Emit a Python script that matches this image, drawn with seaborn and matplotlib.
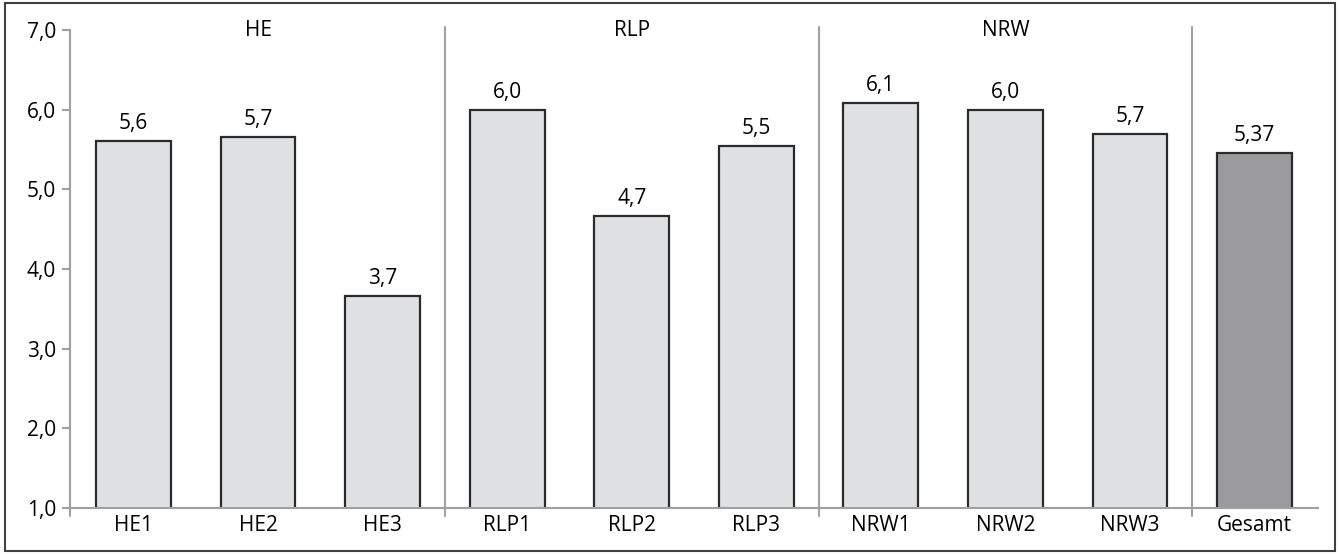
import matplotlib
matplotlib.use("Agg")
import matplotlib.pyplot as plt
import seaborn as sns
import pandas as pd
from matplotlib.patches import Rectangle

# data
categories = ["HE1", "HE2", "HE3", "RLP1", "RLP2", "RLP3", "NRW1", "NRW2", "NRW3", "Gesamt"]
values = [5.61, 5.66, 3.66, 6.0, 4.66, 5.54, 6.09, 6.0, 5.69, 5.46]
value_labels = ["5,6", "5,7", "3,7", "6,0", "4,7", "5,5", "6,1", "6,0", "5,7", "5,37"]
groups = ["HE", "RLP", "NRW"]
yticks = [1.0, 2.0, 3.0, 4.0, 5.0, 6.0, 7.0]

light = "#e0e1e3"
dark = "#9a9b9f"
line_gray = "#a0a0a0"
fs = 15

sns.set_style("white")
plt.rcParams["font.family"] = ["Open Sans", "DejaVu Sans"]
plt.rcParams["text.color"] = "black"

df = pd.DataFrame({"cat": categories, "val": values})
colors = {c: (dark if c == "Gesamt" else light) for c in categories}

fig = plt.figure(figsize=(13.39, 5.54), dpi=100)
ax = fig.add_axes([0.0523, 0.083, 0.932, 0.8628])

sns.barplot(data=df, x="cat", y="val", hue="cat", palette=colors, legend=False,
            width=0.6, edgecolor="#2b2b2b", linewidth=1.6, ax=ax)

for cont in ax.containers:
    for bar in cont:
        i = int(round(bar.get_x() + bar.get_width() / 2))
        ax.annotate(value_labels[i], (i, values[i]), xytext=(0, 5),
                    textcoords="offset points", ha="center", va="bottom", fontsize=fs)

ax.set_ylim(1.0, 7.0)
ax.set_xlim(-0.51, 9.51)
ax.set_yticks(yticks)
ax.set_yticklabels([f"{t:.1f}".replace(".", ",") for t in yticks], fontsize=fs)
ax.tick_params(axis="y", length=6, width=1.5, color=line_gray, pad=4, left=True, labelcolor="black")
ax.tick_params(axis="x", length=0, pad=5, labelsize=fs, labelcolor="black")
ax.set_xlabel("")
ax.set_ylabel("")

for s in ["top", "right"]:
    ax.spines[s].set_visible(False)
for s in ["left", "bottom"]:
    ax.spines[s].set_color(line_gray)
    ax.spines[s].set_linewidth(1.5)
ax.spines["left"].set_bounds(0.985, 7.0)

# separators between the groups
for xs in [2.5, 5.5, 8.5]:
    ax.plot([xs, xs], [0.9, 7.04], color=line_gray, lw=1.5, clip_on=False, zorder=0)
ax.plot([-0.51, -0.51], [0.9, 1.0], color=line_gray, lw=1.5, clip_on=False)

for k, g in enumerate(groups):
    ax.text(3 * k + 1, 7.0, g, ha="center", va="center", fontsize=fs)

# outer frame
fig.patches.append(Rectangle((0.004, 0.005), 0.993, 0.99, transform=fig.transFigure,
                             fill=False, edgecolor="#404040", lw=1.5))

fig.savefig("out.png", dpi=100)
